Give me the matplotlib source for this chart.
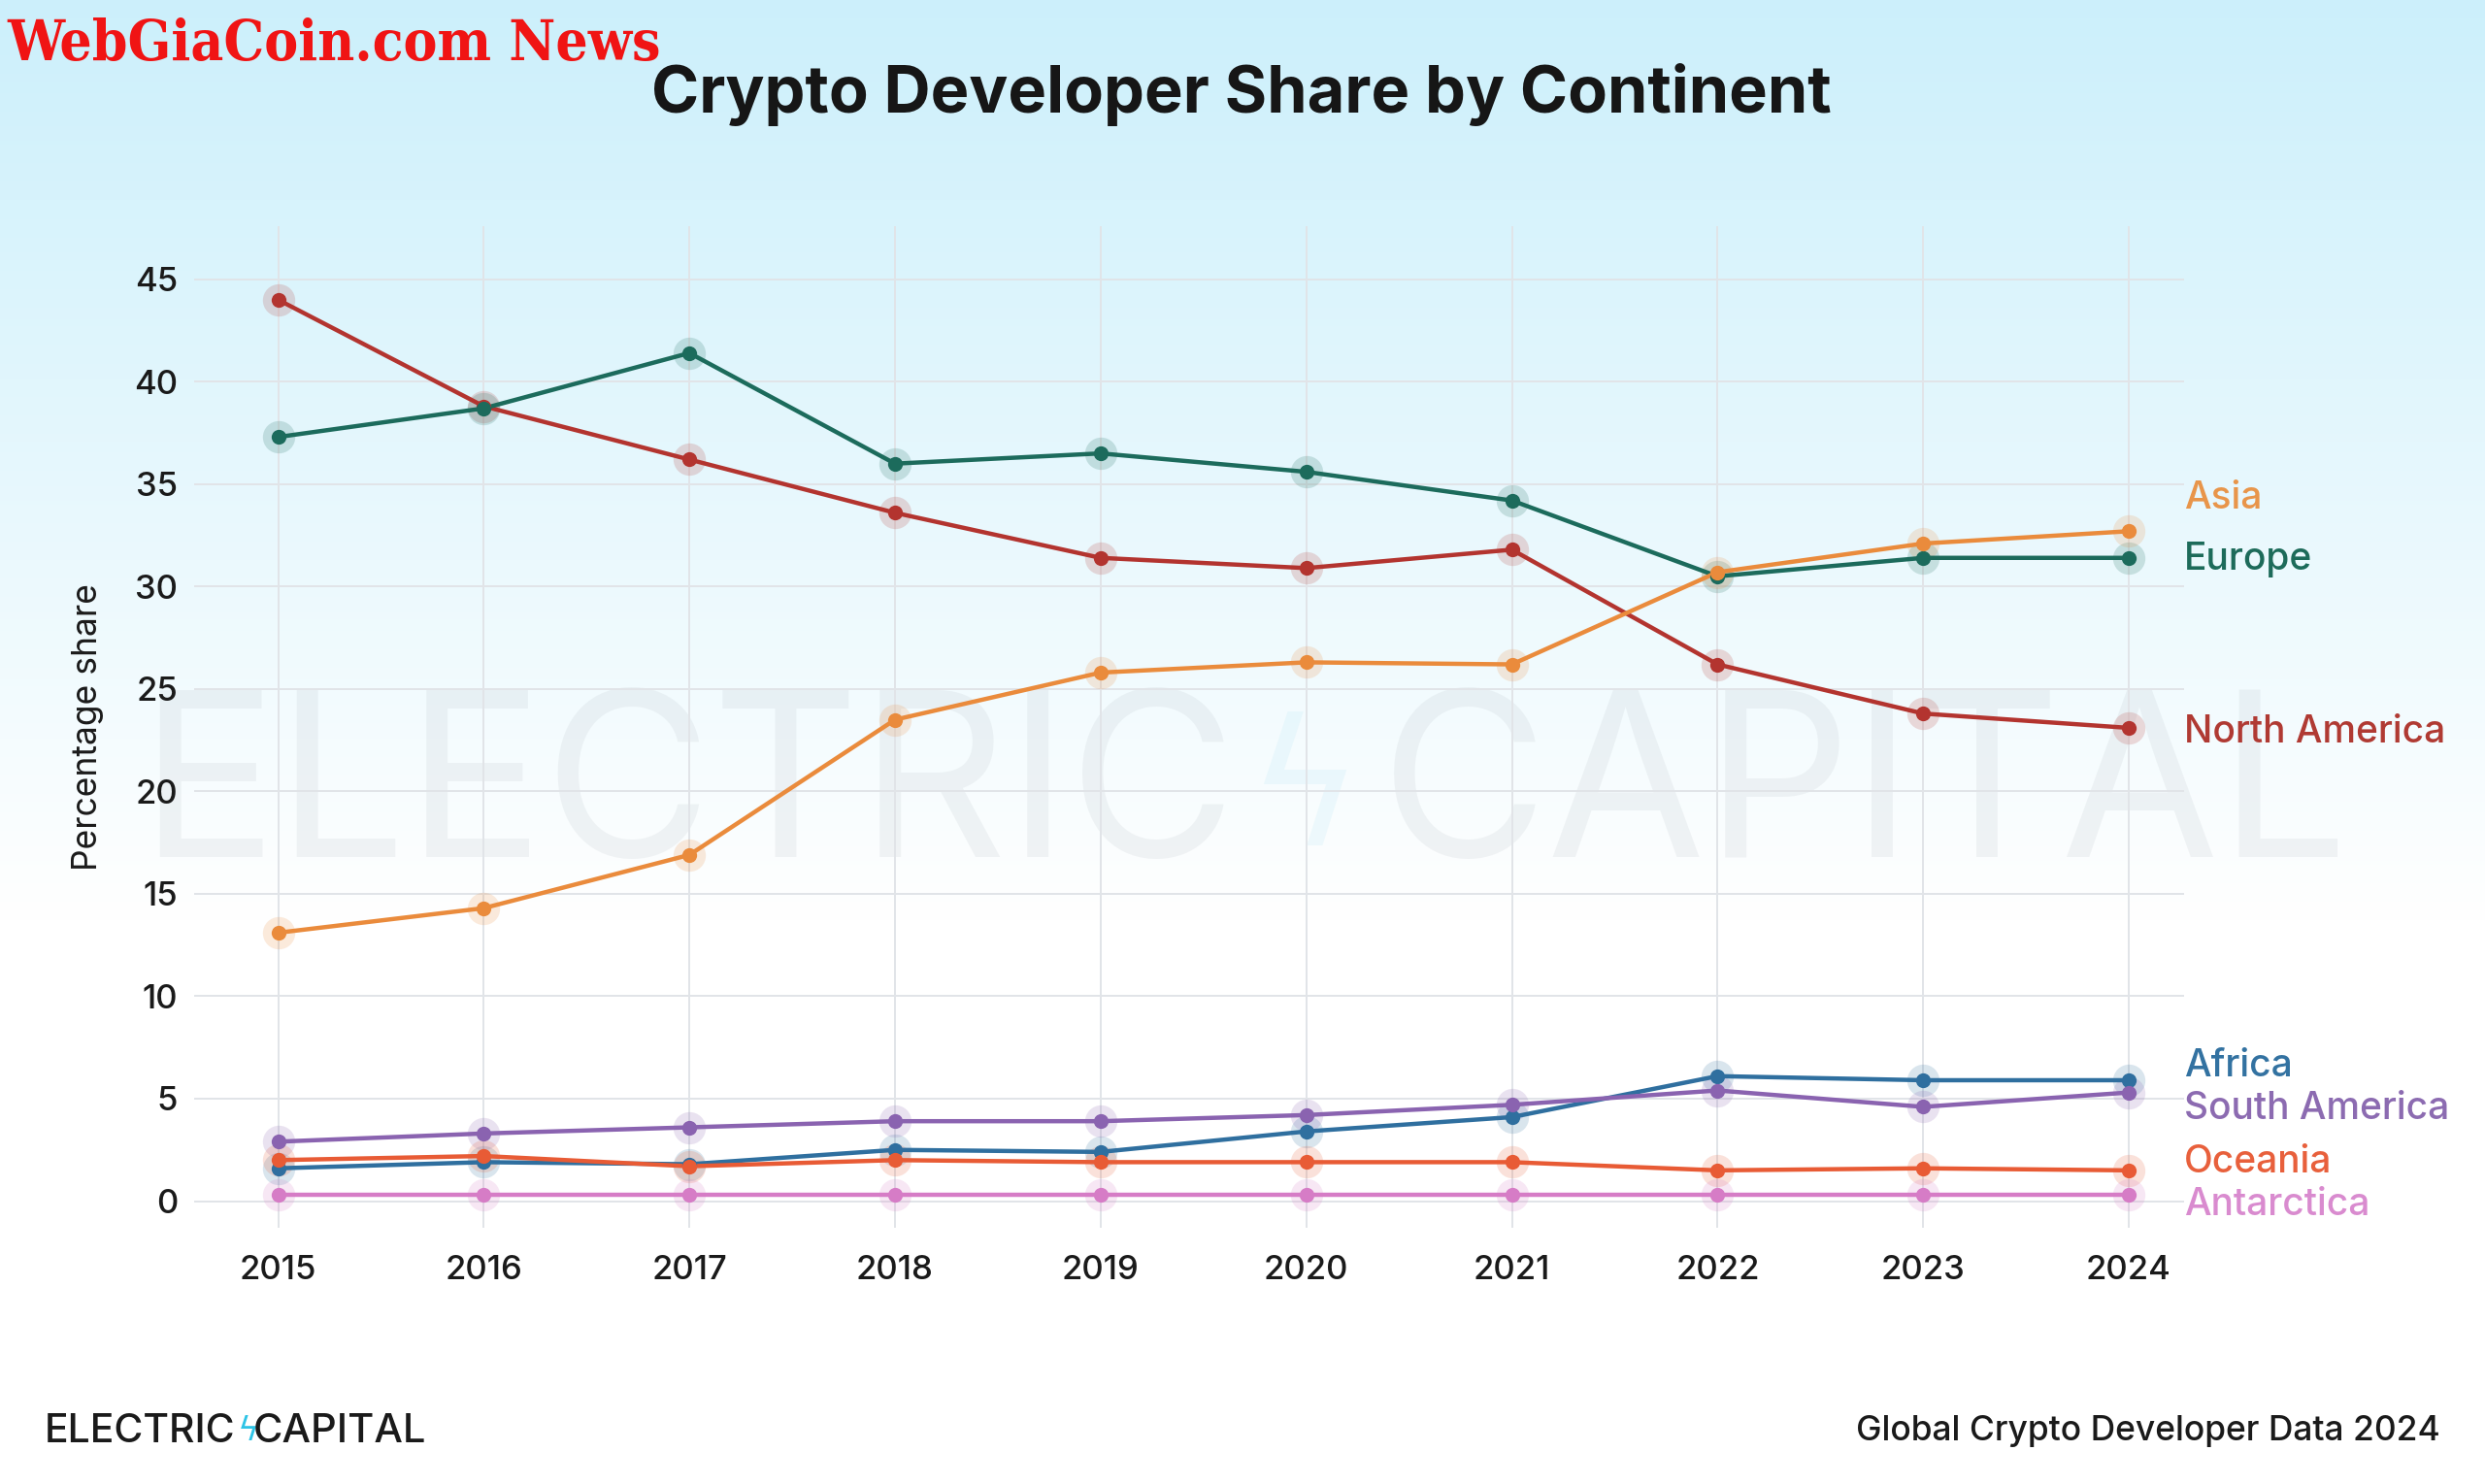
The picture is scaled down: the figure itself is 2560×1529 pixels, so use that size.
from matplotlib import pyplot as plt
import numpy as np

# data
years = [2015, 2016, 2017, 2018, 2019, 2020, 2021, 2022, 2023, 2024]
north_america = [44.0, 38.8, 36.2, 33.6, 31.4, 30.9, 31.8, 26.2, 23.8, 23.1]
europe = [37.3, 38.7, 41.4, 36.0, 36.5, 35.6, 34.2, 30.5, 31.4, 31.4]
asia = [13.1, 14.3, 16.9, 23.5, 25.8, 26.3, 26.2, 30.7, 32.1, 32.7]
africa = [1.6, 1.9, 1.8, 2.5, 2.4, 3.4, 4.1, 6.1, 5.9, 5.9]
south_america = [2.9, 3.3, 3.6, 3.9, 3.9, 4.2, 4.7, 5.4, 4.6, 5.3]
oceania = [2.0, 2.2, 1.7, 2.0, 1.9, 1.9, 1.9, 1.5, 1.6, 1.5]
antarctica = [0.3, 0.3, 0.3, 0.3, 0.3, 0.3, 0.3, 0.3, 0.3, 0.3]
yticks = [0, 5, 10, 15, 20, 25, 30, 35, 40, 45]

series = [
    ("North America", north_america, "#b3342f", "#b03a33", 22.9),
    ("Europe", europe, "#1c6b5c", "#1d6b5a", 31.3),
    ("Asia", asia, "#ea8b3c", "#e8954a", 34.3),
    ("Africa", africa, "#2f6f9f", "#3372a1", 6.6),
    ("South America", south_america, "#8a63b0", "#8c6bb1", 4.5),
    ("Oceania", oceania, "#e85b35", "#e8603c", 1.9),
    ("Antarctica", antarctica, "#d67cc6", "#d98bcf", -0.2),
]

plt.rcParams['font.family'] = ['Inter', 'DejaVu Sans']

fig = plt.figure(figsize=(25.6, 15.29), dpi=100)

# background gradient
bg = fig.add_axes([0, 0, 1, 1], zorder=-10)
grad = np.clip(np.linspace(0, 1, 400) / 0.62, 0, 1)
top = np.array([0.80, 0.94, 0.985])
img = top[None, :] * (1 - grad[:, None]) + np.ones(3)[None, :] * grad[:, None]
bg.imshow(img[:, None, :], aspect='auto', extent=[0, 1, 0, 1])
bg.axis('off')

ax = fig.add_axes([0.078, 0.1727, 0.801, 0.675])
ax.patch.set_alpha(0)

# faint watermark
ax.text(0.524, 0.43, "ELECTRIC", transform=ax.transAxes,
        ha='right', va='center', fontsize=170, color='#8c96a0', alpha=0.1,
        fontweight='normal', zorder=0, clip_on=False)
ax.text(0.596, 0.43, "CAPITAL", transform=ax.transAxes,
        ha='left', va='center', fontsize=170, color='#8c96a0', alpha=0.1,
        fontweight='normal', zorder=0, clip_on=False)
ax.text(0.558, 0.43, "ϟ", transform=ax.transAxes, ha='center', va='center',
        fontsize=130, color='#5cc8e8', alpha=0.08, family='DejaVu Sans', zorder=0)

for name, vals, col, lcol, ylab in series:
    ax.plot(years, vals, color=col, lw=3.2, zorder=3)
    ax.plot(years, vals, 'o', color=col, ms=24, alpha=0.18, mec='none', zorder=2)
    ax.plot(years, vals, 'o', color=col, ms=11, mec='none', zorder=4)
    ax.text(2024.27, ylab, name, color=lcol, fontsize=28, va='center', ha='left',
            fontweight='medium', clip_on=False)

ax.set_xlim(2014.59, 2024.27)
ax.set_ylim(-1.3, 47.6)
ax.set_xticks(years)
ax.set_yticks(yticks)
ax.grid(True, color='#e1e4e8', lw=1.4, zorder=1)
ax.set_axisbelow(True)
for s in ax.spines.values():
    s.set_visible(False)
ax.tick_params(length=0, labelsize=25, colors='#1a1a1a', pad=12)
ax.tick_params(axis='x', pad=20)
for lab in ax.get_xticklabels() + ax.get_yticklabels():
    lab.set_fontweight('medium')
ax.set_ylabel("Percentage share", fontsize=25.5, color='#1a1a1a', labelpad=22)

fig.text(0.4995, 0.936, "Crypto Developer Share by Continent", ha='center', va='center',
         fontsize=48, fontweight='bold', color='#161616')
fig.text(0.003, 0.97, "WebGiaCoin.com News", ha='left', va='center', fontsize=42,
         fontweight='bold', color='#f01414', fontstretch='condensed',
         family=['DejaVu Serif Condensed', 'DejaVu Serif'])

fig.text(0.0179, 0.0355, "ELECTRIC", ha='left', va='center', fontsize=29.5,
         color='#1a1a1a', fontweight='medium')
fig.text(0.0955, 0.0355, "ϟ", ha='left', va='center', fontsize=24, color='#2ec4e6',
         family='DejaVu Sans')
fig.text(0.102, 0.0355, "CAPITAL", ha='left', va='center', fontsize=30,
         color='#1a1a1a', fontweight='medium')
fig.text(0.982, 0.0355, "Global Crypto Developer Data 2024", ha='right', va='center',
         fontsize=25.5, color='#1a1a1a', fontweight='medium')

plt.savefig("out.png", dpi=100)
plt.close()
